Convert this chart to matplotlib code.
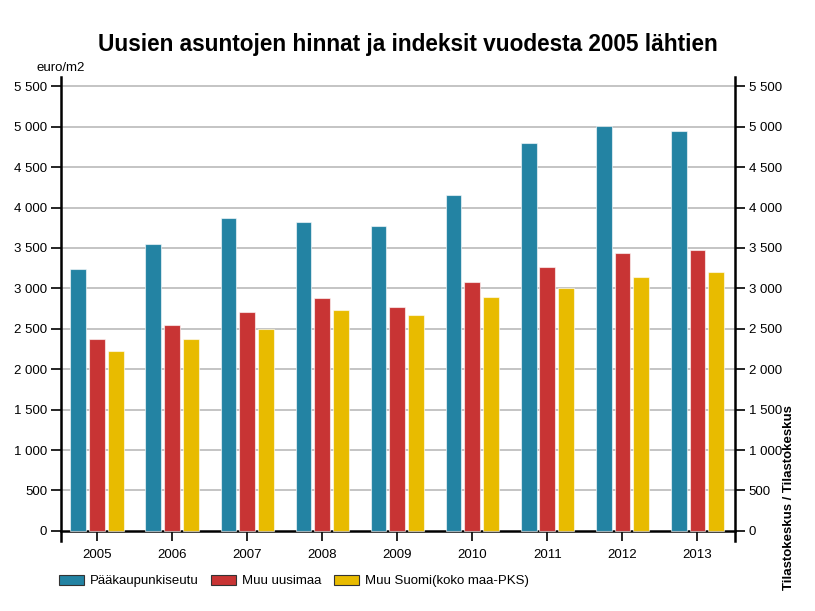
import numpy as np
import matplotlib.pyplot as plt
from matplotlib.ticker import FuncFormatter
from matplotlib.patches import Patch

plt.rcParams['font.family'] = ['Liberation Sans', 'DejaVu Sans']

years = ['2005', '2006', '2007', '2008', '2009', '2010', '2011', '2012', '2013']
pks = [3234, 3552, 3874, 3820, 3775, 4155, 4802, 5004, 4942]
uusimaa = [2376, 2541, 2710, 2884, 2772, 3082, 3267, 3441, 3478]
muu_suomi = [2231, 2376, 2496, 2727, 2673, 2896, 2999, 3144, 3197]
series_names = ['Pääkaupunkiseutu', 'Muu uusimaa', 'Muu Suomi(koko maa-PKS)']
colors = ['#2383a3', '#c83434', '#e8bb00']

fig = plt.figure(figsize=(8.15, 6.11), dpi=100)
ax = fig.add_axes([0.0748, 0.1146, 0.827, 0.760])

x = np.arange(len(years))
w = 0.21
for i, (vals, c) in enumerate(zip([pks, uusimaa, muu_suomi], colors)):
    ax.bar(x + (i - 1) * 0.249, vals, width=w, color=c,
           edgecolor=(1, 1, 1, 0.6), linewidth=0.8, zorder=3)

ax.set_xlim(-0.48, 8.5)
ax.set_ylim(-125, 5620)
yt = np.arange(0, 5501, 500)
fmt = FuncFormatter(lambda v, p: '{:,}'.format(int(v)).replace(',', ' '))

for yv in yt[1:]:
    ax.axhline(yv, color='#c4c4c4', lw=1.4, zorder=1)

ax.set_yticks(yt)
ax.yaxis.set_major_formatter(fmt)
ax.set_xticks(x)
ax.set_xticklabels(years)
ax.tick_params(axis='y', direction='out', length=7, width=1.2, labelsize=9.5, pad=3)
ax.tick_params(axis='x', direction='out', length=7, width=1.2, labelsize=9.5, pad=6)

ax.spines['top'].set_visible(False)
ax.spines['right'].set_visible(False)
ax.spines['left'].set_linewidth(1.8)
ax.spines['bottom'].set_position(('data', 0))
ax.spines['bottom'].set_linewidth(1.8)

ax2 = ax.twinx()
ax2.set_ylim(ax.get_ylim())
ax2.set_yticks(yt)
ax2.yaxis.set_major_formatter(fmt)
ax2.tick_params(axis='y', direction='out', length=7, width=1.2, labelsize=9.5, pad=3)
for s in ['top', 'left', 'bottom']:
    ax2.spines[s].set_visible(False)
ax2.spines['right'].set_linewidth(1.8)

fig.text(0.5, 0.927, 'Uusien asuntojen hinnat ja indeksit vuodesta 2005 lähtien',
         ha='center', va='center', fontsize=16.3, fontweight='bold')
fig.text(0.074, 0.888, 'euro/m2', ha='center', va='center', fontsize=9.5)
fig.text(0.968, 0.034, 'Tilastokeskus / Tilastokeskus', rotation=90,
         ha='center', va='bottom', fontsize=9.5, fontweight='bold')

handles = [Patch(facecolor=c, edgecolor='#333333', linewidth=0.8, label=n)
           for c, n in zip(colors, series_names)]
fig.legend(handles=handles, loc='center left', bbox_to_anchor=(0.072, 0.049),
           ncol=3, frameon=False, fontsize=9.5, handlelength=1.9,
           handleheight=0.8, handletextpad=0.45, columnspacing=0.95,
           borderaxespad=0, borderpad=0)

fig.savefig('out.png', dpi=100)
